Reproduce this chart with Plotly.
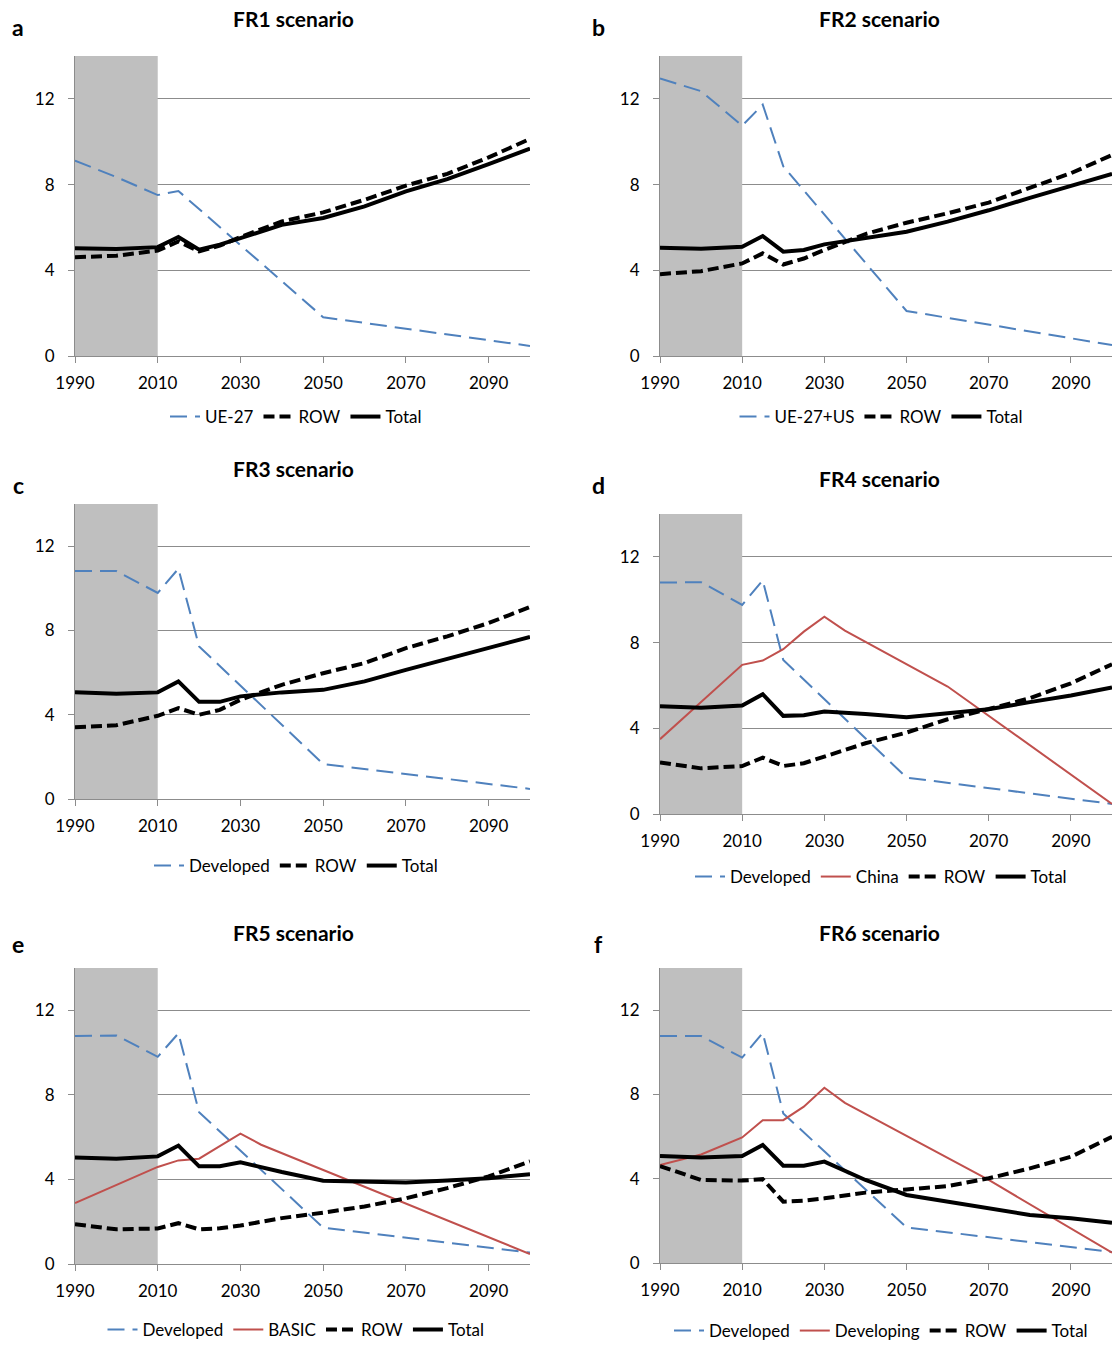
import plotly.graph_objects as go

# ---------------- data ----------------
YEARS = [1990, 2000, 2010, 2015, 2020, 2025, 2030, 2040, 2050, 2060, 2070, 2080, 2090, 2100]
REG_YEARS = [1990, 2000, 2010, 2015, 2020, 2050, 2100]

# a: FR1
a_reg_years = [1990, 2000, 2010, 2015, 2050, 2100]
a_reg = [9.12, 8.35, 7.51, 7.70, 1.81, 0.47]
a_row = [4.61, 4.68, 4.92, 5.35, 4.88, 5.15, 5.55, 6.28, 6.70, 7.29, 7.95, 8.50, 9.27, 10.13]
a_tot = [5.03, 4.99, 5.08, 5.55, 4.96, 5.20, 5.50, 6.12, 6.44, 6.98, 7.68, 8.25, 8.95, 9.68]

# b: FR2
b_reg = [12.95, 12.36, 10.75, 11.73, 8.85, 2.10, 0.51]
b_row = [3.82, 3.96, 4.32, 4.79, 4.27, 4.55, 4.95, 5.69, 6.22, 6.66, 7.16, 7.84, 8.53, 9.38]
b_tot = [5.05, 5.00, 5.10, 5.60, 4.87, 4.95, 5.21, 5.49, 5.80, 6.27, 6.80, 7.38, 7.94, 8.50]

# c: FR3
c_reg = [10.82, 10.82, 9.78, 10.93, 7.24, 1.66, 0.48]
c_row = [3.41, 3.50, 3.95, 4.31, 4.00, 4.23, 4.71, 5.42, 5.97, 6.45, 7.16, 7.72, 8.35, 9.11]
c_tot = [5.07, 4.99, 5.06, 5.58, 4.61, 4.61, 4.87, 5.06, 5.18, 5.58, 6.13, 6.64, 7.16, 7.69]

# d: FR4
d_reg = [10.80, 10.82, 9.76, 10.90, 7.19, 1.70, 0.47]
d_china_years = [1990, 2000, 2010, 2015, 2020, 2025, 2030, 2035, 2060, 2100]
d_china = [3.49, 5.23, 6.96, 7.16, 7.69, 8.51, 9.21, 8.56, 5.95, 0.47]
d_row = [2.41, 2.13, 2.24, 2.63, 2.24, 2.37, 2.68, 3.30, 3.80, 4.42, 4.90, 5.40, 6.10, 6.99]
d_tot = [5.03, 4.96, 5.06, 5.59, 4.58, 4.61, 4.78, 4.67, 4.51, 4.70, 4.89, 5.22, 5.53, 5.90]

# e: FR5
e_reg = [10.78, 10.81, 9.80, 10.91, 7.18, 1.72, 0.54]
e_basic_years = [1990, 2000, 2010, 2015, 2020, 2025, 2030, 2035, 2100]
e_basic = [2.88, 3.75, 4.59, 4.90, 4.98, 5.57, 6.17, 5.64, 0.47]
e_row = [1.88, 1.64, 1.68, 1.93, 1.64, 1.69, 1.82, 2.17, 2.43, 2.72, 3.11, 3.59, 4.14, 4.85]
e_tot = [5.04, 4.98, 5.09, 5.60, 4.62, 4.62, 4.81, 4.35, 3.94, 3.88, 3.86, 3.95, 4.06, 4.25]

# f: FR6
f_reg = [10.77, 10.77, 9.75, 10.92, 7.10, 1.69, 0.52]
f_dev_years = [1990, 2000, 2010, 2015, 2020, 2025, 2030, 2035, 2070, 2100]
f_dev = [4.65, 5.15, 5.96, 6.78, 6.78, 7.42, 8.32, 7.60, 3.94, 0.49]
f_row = [4.60, 3.94, 3.91, 3.98, 2.91, 2.96, 3.07, 3.34, 3.49, 3.65, 4.02, 4.49, 5.04, 5.99]
f_tot = [5.08, 5.01, 5.08, 5.60, 4.62, 4.62, 4.81, 3.94, 3.23, 2.91, 2.59, 2.28, 2.12, 1.91]

TITLES = ["FR1 scenario", "FR2 scenario", "FR3 scenario", "FR4 scenario", "FR5 scenario", "FR6 scenario"]
LETTERS = ["a", "b", "c", "d", "e", "f"]
REG_NAMES = ["UE-27", "UE-27+US", "Developed", "Developed", "Developed", "Developed"]
RED_NAMES = [None, None, None, "China", "BASIC", "Developing"]
X_TICKS = [1990, 2010, 2030, 2050, 2070, 2090]
Y_TICKS = [0, 4, 8, 12]

panels = [
    dict(reg_x=a_reg_years, reg=a_reg, red_x=None, red=None, row=a_row, tot=a_tot),
    dict(reg_x=REG_YEARS, reg=b_reg, red_x=None, red=None, row=b_row, tot=b_tot),
    dict(reg_x=REG_YEARS, reg=c_reg, red_x=None, red=None, row=c_row, tot=c_tot),
    dict(reg_x=REG_YEARS, reg=d_reg, red_x=d_china_years, red=d_china, row=d_row, tot=d_tot),
    dict(reg_x=REG_YEARS, reg=e_reg, red_x=e_basic_years, red=e_basic, row=e_row, tot=e_tot),
    dict(reg_x=REG_YEARS, reg=f_reg, red_x=f_dev_years, red=f_dev, row=f_row, tot=f_tot),
]

# ---------------- layout geometry (pixels) ----------------
W, H = 1115, 1346
boxes = [
    (75, 530, 56, 356), (660, 1112, 56, 356),
    (75, 530, 504, 799), (660, 1112, 514, 814),
    (75, 530, 968, 1264), (660, 1112, 968, 1263),
]
title_pos = [(293, 19), (879, 19), (293, 468), (879, 478), (293, 932), (879, 932)]
letter_pos = [(18, 27), (598, 27), (18, 485), (598, 485), (18, 944), (598, 944)]
legend_pos = [(296, 417), (881, 417), (296, 866), (881, 877), (296, 1330), (881, 1331)]

FONT = "Lato, Open Sans, sans-serif"
BLUE = "#4F81BD"
RED = "#C0504D"
GRID = "#8C8C8C"

fig = go.Figure()
layout = dict(
    width=W, height=H, margin=dict(l=0, r=0, t=0, b=0, autoexpand=False),
    paper_bgcolor="white", plot_bgcolor="white",
    font=dict(family=FONT, size=17, color="#000000"),
    shapes=[], annotations=[],
)

for i, p in enumerate(panels):
    k = "" if i == 0 else str(i + 1)
    xa, ya = "x" + k, "y" + k
    leg = "legend" + k
    l, r, t, b = boxes[i]
    layout["xaxis" + k] = dict(
        domain=[l / W, r / W], range=[1990, 2100], anchor=ya,
        tickvals=X_TICKS, ticks="outside", ticklen=6, tickcolor=GRID,
        showline=True, linecolor=GRID, linewidth=1, showgrid=False, zeroline=False,
        tickfont=dict(family=FONT, size=17), ticklabelstandoff=6,
    )
    layout["yaxis" + k] = dict(
        domain=[1 - b / H, 1 - t / H], range=[0, 14], anchor=xa,
        tickvals=Y_TICKS, ticks="outside", ticklen=6, tickcolor=GRID,
        showline=True, linecolor=GRID, linewidth=1,
        showgrid=True, gridcolor=GRID, gridwidth=1, zeroline=False,
        tickfont=dict(family=FONT, size=17), ticklabelstandoff=10,
    )
    lx, ly = legend_pos[i]
    layout[leg] = dict(
        orientation="h", x=lx / W, y=1 - ly / H, xanchor="center", yanchor="middle",
        font=dict(family=FONT, size=17), bgcolor="rgba(0,0,0,0)",
        itemwidth=30, traceorder="normal",
    )
    layout["shapes"].append(dict(
        type="rect", xref=xa, yref=ya, x0=1990, x1=2010, y0=0, y1=14,
        fillcolor="#BFBFBF", line=dict(width=0), layer="between",
    ))
    fig.add_trace(go.Scatter(
        x=p["reg_x"], y=p["reg"], mode="lines", name=REG_NAMES[i],
        line=dict(color=BLUE, width=2, dash="17px,8px"),
        xaxis=xa, yaxis=ya, legend=leg,
    ))
    if p["red"] is not None:
        fig.add_trace(go.Scatter(
            x=p["red_x"], y=p["red"], mode="lines", name=RED_NAMES[i],
            line=dict(color=RED, width=2),
            xaxis=xa, yaxis=ya, legend=leg,
        ))
    fig.add_trace(go.Scatter(
        x=YEARS, y=p["row"], mode="lines", name="ROW",
        line=dict(color="black", width=4, dash="11px,5px"),
        xaxis=xa, yaxis=ya, legend=leg,
    ))
    fig.add_trace(go.Scatter(
        x=YEARS, y=p["tot"], mode="lines", name="Total",
        line=dict(color="black", width=4),
        xaxis=xa, yaxis=ya, legend=leg,
    ))
    tx, ty = title_pos[i]
    layout["annotations"].append(dict(
        text="<b>" + TITLES[i] + "</b>", x=tx / W, y=1 - ty / H, xref="paper", yref="paper",
        xanchor="center", yanchor="middle", showarrow=False,
        font=dict(family=FONT, size=21, color="black"),
    ))
    cx, cy = letter_pos[i]
    layout["annotations"].append(dict(
        text="<b>" + LETTERS[i] + "</b>", x=cx / W, y=1 - cy / H, xref="paper", yref="paper",
        xanchor="center", yanchor="middle", showarrow=False,
        font=dict(family=FONT, size=23, color="black"),
    ))

fig.update_layout(**layout)
fig.write_html(
    "out.html",
    config={"displayModeBar": False},
    post_script="document.body.style.margin='0';document.body.style.overflow='hidden';",
)
